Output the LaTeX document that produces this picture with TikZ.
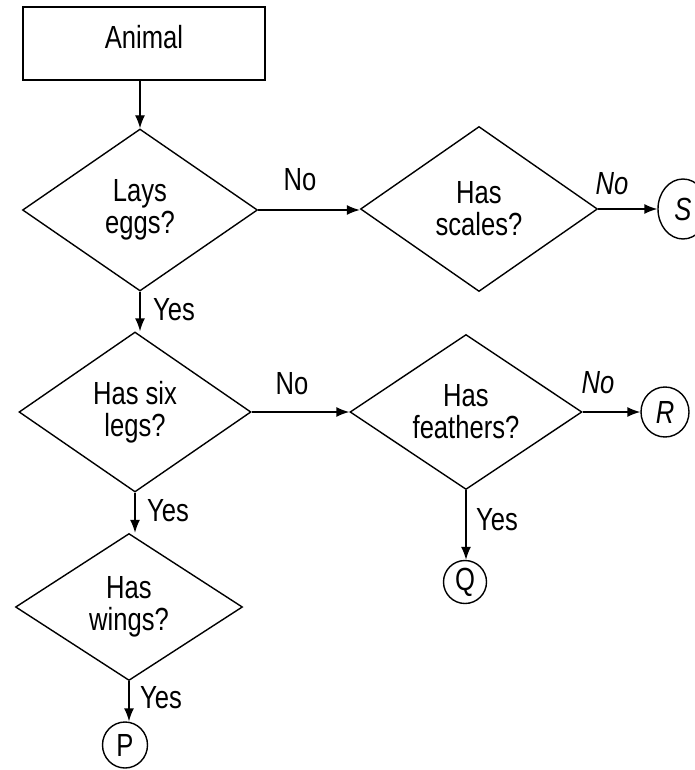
\documentclass[tikz,border=0pt]{standalone}
\usepackage{fontspec}
\setmainfont{Liberation Sans}[FakeStretch=0.8]
\usetikzlibrary{shapes.geometric,arrows.meta}
\begin{document}
\begin{tikzpicture}[x=1pt,y=-1pt,
  txt/.style={font=\fontsize{32}{32}\selectfont},
  boxst/.style={draw, line width=1.4pt, txt, minimum width=242pt, minimum height=73pt, inner sep=0pt, text height=23pt, text depth=12pt},
  dia/.style={draw, diamond, aspect=1.45, inner sep=0pt, align=center, txt, line width=1.4pt},
  term/.style={draw, ellipse, inner sep=0pt, line width=1.4pt, txt},
  lbl/.style={txt, inner sep=0pt},
  arr/.style={-{Latex[length=13pt,width=10pt]}, line width=1.4pt}]
\useasboundingbox (0,0) rectangle (695,770);
\fill[white] (0,0) rectangle (695,770);

\node[boxst] (animal) at (144,43.5) {Animal};
\node[dia, minimum width=235pt, minimum height=162pt] (d1) at (140,210) {Lays\\eggs?};
\node[dia, minimum width=237pt, minimum height=165pt] (d2) at (479,209) {Has\\scales?};
\node[dia, minimum width=232pt, minimum height=160pt] (d3) at (135,412) {Has six\\legs?};
\node[dia, minimum width=232pt, minimum height=155pt] (d4) at (466,412) {Has\\feathers?};
\node[dia, minimum width=227pt, minimum height=147pt] (d5) at (129,607) {Has\\wings?};

\node[term, minimum width=50pt, minimum height=60pt] (s) at (683,209) {\itshape S};
\node[term, minimum width=48pt, minimum height=50pt] (r) at (665,412) {\itshape R};
\node[term, minimum width=43pt, minimum height=43pt] (q) at (465,582) {Q};
\node[term, minimum width=45pt, minimum height=46pt] (p) at (125,745) {P};

\draw[arr] (animal.south -| d1.north) -- (d1.north);
\draw[arr] (d1.east) -- (d1.east -| d2.west);
\draw[arr] (d2.east) -- (s.west);
\draw[arr] (d1.south) -- (d1.south |- d3.north);
\draw[arr] (d3.east) -- (d4.west);
\draw[arr] (d4.east) -- (r.west);
\draw[arr] (d4.south) -- (d4.south |- q.north);
\draw[arr] (d3.south) -- (d3.south |- d5.north);
\draw[arr] (d5.south) -- (d5.south |- p.north);

\node[lbl] (no1) at (300,180) {No};
\node[lbl] (no2) at (612,184) {\itshape No};
\node[lbl] (yes1) at (174,310) {Yes};
\node[lbl] (no3) at (292,384) {No};
\node[lbl] (no4) at (598,383) {\itshape No};
\node[lbl] (yes2) at (497,520) {Yes};
\node[lbl] (yes3) at (168,511) {Yes};
\node[lbl] (yes4) at (161,698) {Yes};
\end{tikzpicture}
\end{document}
